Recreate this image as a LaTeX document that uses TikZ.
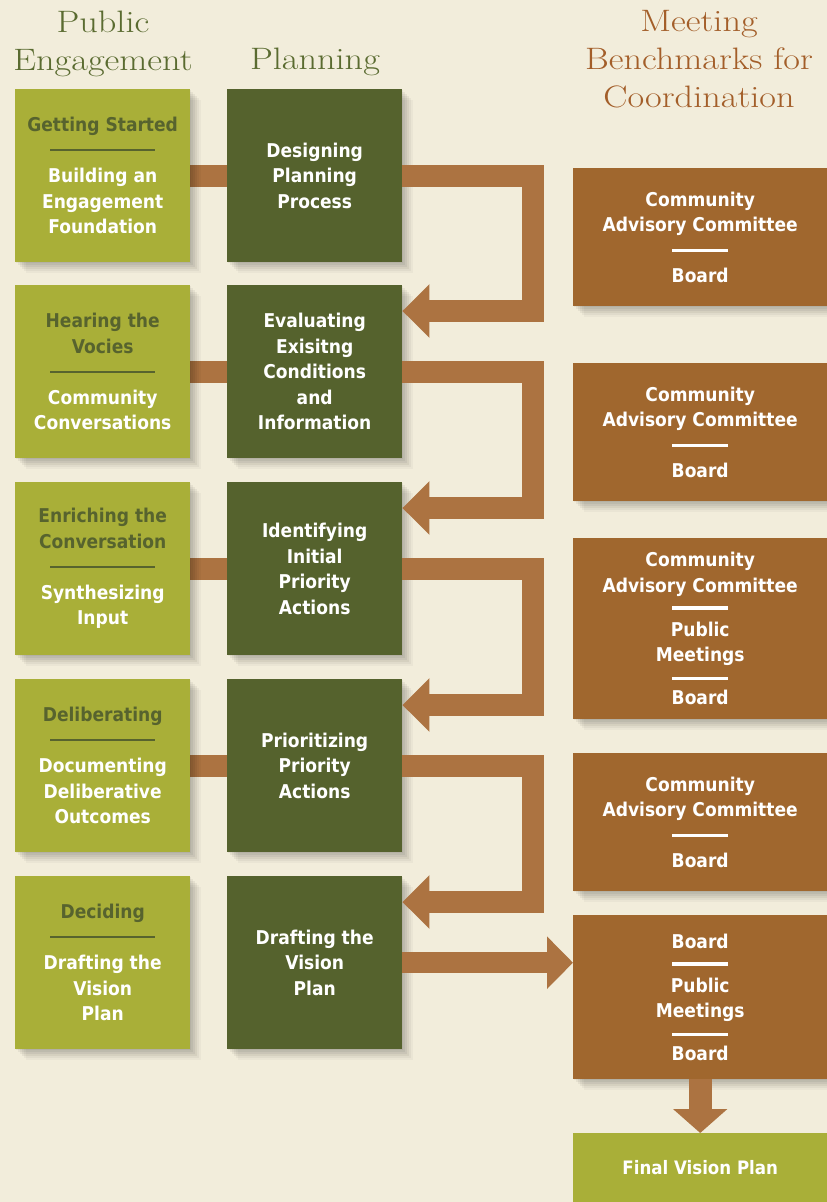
\documentclass[tikz,border=0pt]{standalone}
\usepackage{fontspec}
\newfontfamily\boxfont{DejaVu Sans Condensed}
\newfontfamily\ttlfont{Latin Modern Roman}[FakeStretch=1.17]
\usetikzlibrary{arrows.meta,calc}

\definecolor{bgcream}{HTML}{F2EDDB}
\definecolor{peolive}{HTML}{A9AF38}
\definecolor{plolive}{HTML}{55622D}
\definecolor{mbbrown}{HTML}{A0672E}
\definecolor{arrbrown}{HTML}{AC7341}
\definecolor{pehead}{HTML}{57632E}
\definecolor{ttlgreen}{HTML}{5A6B30}
\definecolor{ttlbrown}{HTML}{A35E29}

\newcommand{\pesep}{{\color{pehead}\rule[6pt]{105pt}{2pt}}}
\newcommand{\mbsep}{\rule[5pt]{56pt}{3.5pt}}

\tikzset{
  softshadow/.style={
    preaction={fill=black, opacity=0.05, transform canvas={xshift=1pt, yshift=-1pt}},
    preaction={fill=black, opacity=0.05, transform canvas={xshift=3pt, yshift=-3pt}},
    preaction={fill=black, opacity=0.05, transform canvas={xshift=5pt, yshift=-5pt}},
    preaction={fill=black, opacity=0.05, transform canvas={xshift=7pt, yshift=-7pt}},
    preaction={fill=black, opacity=0.04, transform canvas={xshift=9pt, yshift=-9pt}},
    preaction={fill=black, opacity=0.03, transform canvas={xshift=11pt, yshift=-11pt}}},
  box/.style={anchor=north west, minimum width=175pt, minimum height=173pt,
    inner sep=0pt, align=center, text=white, softshadow,
    font={\boxfont\bfseries\fontsize{19}{25.5}\selectfont}},
  pebox/.style={box, fill=peolive},
  plbox/.style={box, fill=plolive},
  mbbox/.style={box, fill=mbbrown, minimum width=254pt},
  bar/.style={line width=21.5pt, arrbrown},
  uarrow/.style={bar, line join=miter, -{Triangle[length=27pt,width=52pt]}},
  title/.style={font={\ttlfont\fontsize{31}{38}\selectfont}, align=center}
}

\begin{document}
\begin{tikzpicture}[x=1pt, y=-1pt]
    \useasboundingbox (0,0) rectangle (827,1202);
    \fill [bgcream] (0,0) rectangle (827,1202);

    % Column titles
    \node [title, text=ttlgreen] (PEtitle) at (103,44) {Public\\Engagement};
    \node [title, text=ttlgreen] (PLtitle) at (315,62) {Planning};
    \node [title, text=ttlbrown] (MBtitle) at (699,59) {Meeting\\Benchmarks for\\Coordination};

    % Bars behind the boxes
    \foreach \y in {89, 285, 482, 679} {
        \draw [bar] (190,\y+87) -- (227,\y+87);
    }

    % Public engagement
    \node [pebox] (PEone) at (15,89) {{\color{pehead}Getting Started}\\ \pesep\\ Building an\\ Engagement\\ Foundation};
    \node [pebox] (PEtwo) at (15,285) {{\color{pehead}Hearing the}\\ {\color{pehead}Vocies}\\ \pesep\\ Community\\ Conversations};
    \node [pebox] (PEthree) at (15,482) {{\color{pehead}Enriching the}\\ {\color{pehead}Conversation}\\ \pesep\\ Synthesizing\\ Input};
    \node [pebox] (PEfour) at (15,679) {{\color{pehead}Deliberating}\\ \pesep\\ Documenting\\ Deliberative\\ Outcomes};
    \node [pebox] (PEfive) at (15,876) {{\color{pehead}Deciding}\\ \pesep\\ Drafting the\\ Vision\\ Plan};

    % Planning
    \node [plbox] (PLone) at (227,89) {Designing\\ Planning\\ Process};
    \node [plbox] (PLtwo) at (227,285) {Evaluating\\ Exisitng\\ Conditions\\ and\\ Information};
    \node [plbox] (PLthree) at (227,482) {Identifying\\ Initial\\ Priority\\ Actions};
    \node [plbox] (PLfour) at (227,679) {Prioritizing\\ Priority\\ Actions};
    \node [plbox] (PLfive) at (227,876) {Drafting the\\ Vision\\ Plan};

    % Meeting benchmarks
    \node [mbbox, minimum height=138pt] (MBone) at (573,168) {Community\\ Advisory Committee\\ \mbsep\\ Board};
    \node [mbbox, minimum height=138pt] (MBtwo) at (573,363) {Community\\ Advisory Committee\\ \mbsep\\ Board};
    \node [mbbox, minimum height=181pt] (MBthree) at (573,538) {Community\\ Advisory Committee\\[-3pt] \mbsep\\[-4pt] Public\\ Meetings\\[-2pt] \mbsep\\[-6pt] Board};
    \node [mbbox, minimum height=138pt] (MBfour) at (573,753) {Community\\ Advisory Committee\\ \mbsep\\ Board};
    \node [mbbox, minimum height=164pt] (MBfive) at (573,915) {Board\\[-3pt] \mbsep\\[-4pt] Public\\ Meetings\\[-2pt] \mbsep\\[-6pt] Board};
    \node [box, fill=peolive, minimum width=254pt, minimum height=69pt,
           font={\boxfont\bfseries\fontsize{18.5}{24}\selectfont}] (Final) at (573,1133) {Final Vision Plan};

    % Loop arrows between planning steps
    \foreach \a/\b in {PLone/PLtwo, PLtwo/PLthree, PLthree/PLfour, PLfour/PLfive} {
        \draw [uarrow] ($(\a.north east)+(0,87)$) -- ++(130.5,0) |- ($(\b.north east)+(0,26)$);
    }

    % Into the last benchmarks
    \draw [uarrow, -{Triangle[length=26pt,width=51pt]}] (PLfive.east) -- (MBfive.west |- PLfive.east);
    \draw [bar, line width=23pt, -{Triangle[length=24pt,width=53pt]}] (MBfive.south) -- (Final.north);
\end{tikzpicture}
\end{document}
